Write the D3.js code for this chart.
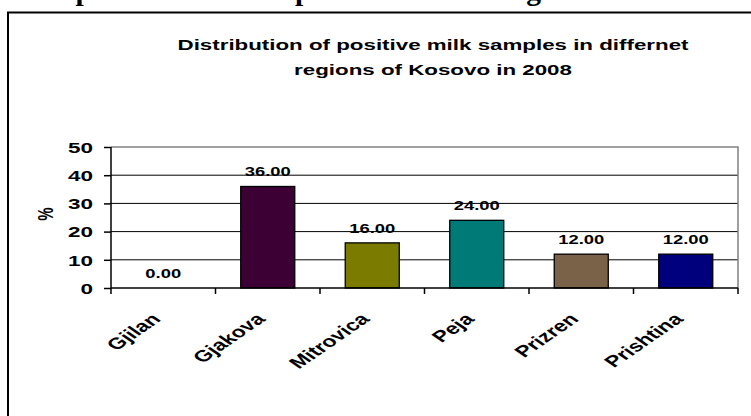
<!DOCTYPE html>
<html>
<head>
<meta charset="utf-8">
<script src="https://cdn.jsdelivr.net/npm/d3@7/dist/d3.min.js"></script>
<style>
  html, body { margin: 0; padding: 0; background: #fff; }
  svg { display: block; }
</style>
</head>
<body>
<div id="chart"></div>
<script>
// Positive milk samples by region, Kosovo 2008 (%)
const regions = ["Gjilan", "Gjakova", "Mitrovica", "Peja", "Prizren", "Prishtina"];
const positivePct = [0, 36, 16, 24, 12, 12];
const barColors = ["#ffffff", "#3d0035", "#7b7b00", "#007a76", "#7a6249", "#00007c"];
const yTicks = [0, 10, 20, 30, 40, 50];
const titleLines = ["Distribution of positive milk samples in differnet", "regions of Kosovo in 2008"];
const headingText = "Distribution of positive milk samples in differnet regions of Kosovo";
const yAxisLabel = "%";

const W = 751, H = 416;
const SX = 1.45; // horizontal text stretch
const sans = "'Liberation Sans', Arial, sans-serif";

const svg = d3.select("#chart").append("svg")
  .attr("width", W).attr("height", H);

// heading line from the surrounding page, mostly cut off at the top edge
svg.append("text")
  .attr("transform", `translate(-118,-0.5)`)
  .attr("font-family", "'Liberation Serif', 'Times New Roman', serif")
  .attr("font-weight", "bold")
  .attr("font-size", 29.5)
  .attr("fill", "#000")
  .text(headingText);

// outer chart frame
svg.append("rect")
  .attr("x", 8).attr("y", 12.5)
  .attr("width", 800).attr("height", 500)
  .attr("fill", "none").attr("stroke", "#000").attr("stroke-width", 2);

const plot = { left: 111, right: 738, top: 147, bottom: 288 };

const x = d3.scaleBand()
  .domain(regions)
  .range([plot.left, plot.right])
  .paddingInner(0.483)
  .paddingOuter(0.2415);

const y = d3.scaleLinear()
  .domain([0, 50])
  .range([plot.bottom, plot.top]);

// gridlines
svg.append("g")
  .selectAll("line")
  .data(yTicks.filter(t => t > 0 && t < 50))
  .join("line")
  .attr("x1", plot.left).attr("x2", plot.right)
  .attr("y1", d => y(d)).attr("y2", d => y(d))
  .attr("stroke", "#000").attr("stroke-width", 1);

// plot area top and right border
svg.append("path")
  .attr("d", `M${plot.left},${y(50)}H${plot.right}V${y(0)}`)
  .attr("fill", "none").attr("stroke", "#808080").attr("stroke-width", 1.5);

// bars
const data = regions.map((r, i) => ({ region: r, value: positivePct[i], color: barColors[i] }));
svg.append("g")
  .selectAll("rect")
  .data(data.filter(d => d.value > 0))
  .join("rect")
  .attr("x", d => x(d.region))
  .attr("y", d => y(d.value))
  .attr("width", x.bandwidth())
  .attr("height", d => y(0) - y(d.value))
  .attr("fill", d => d.color)
  .attr("stroke", "#000").attr("stroke-width", 1.3);

// value labels
svg.append("g")
  .selectAll("text")
  .data(data)
  .join("text")
  .attr("transform", d => `translate(${x(d.region) + x.bandwidth() / 2},${y(d.value) - 10}) scale(${SX},1)`)
  .attr("text-anchor", "middle")
  .attr("font-family", sans).attr("font-weight", "bold").attr("font-size", 12.7)
  .text(d => d3.format(".2f")(d.value));

// y axis
const yAxis = svg.append("g")
  .attr("transform", `translate(${plot.left},0)`)
  .call(d3.axisLeft(y).tickValues(yTicks).tickSize(7).tickPadding(0).tickFormat(d3.format("d")));
yAxis.select(".domain").attr("stroke", "#000").attr("stroke-width", 1.5).attr("d", `M0,${y(50)}V${y(0)}`);
yAxis.selectAll(".tick line").attr("stroke", "#000").attr("stroke-width", 1.5);
yAxis.selectAll(".tick text")
  .attr("x", null).attr("dy", null)
  .attr("transform", `translate(-18,0) scale(${SX},1)`)
  .attr("dominant-baseline", "central")
  .attr("fill", "#000")
  .attr("font-family", sans).attr("font-weight", "bold").attr("font-size", 15.5);

// x axis line with ticks at category boundaries
const gap = x.step() - x.bandwidth();
const bounds = regions.map(r => x(r) - gap / 2).concat([x(regions[regions.length - 1]) + x.bandwidth() + gap / 2]);
svg.append("line")
  .attr("x1", plot.left).attr("x2", plot.right)
  .attr("y1", y(0)).attr("y2", y(0))
  .attr("stroke", "#000").attr("stroke-width", 1.5);
svg.append("g")
  .selectAll("line")
  .data(bounds)
  .join("line")
  .attr("x1", d => d).attr("x2", d => d)
  .attr("y1", y(0)).attr("y2", y(0) + 6)
  .attr("stroke", "#000").attr("stroke-width", 1.5);

// rotated category labels
svg.append("g")
  .selectAll("text")
  .data(regions)
  .join("text")
  .attr("transform", d => `translate(${x(d) + x.bandwidth() / 2 - 1.5},${y(0) + 32}) scale(${SX},1) rotate(-45)`)
  .attr("text-anchor", "end")
  .attr("font-family", sans).attr("font-weight", "bold").attr("font-size", 16)
  .text(d => d);

// y axis title
svg.append("text")
  .attr("transform", `translate(45,214) scale(${SX},1) rotate(-90)`)
  .attr("text-anchor", "middle")
  .attr("dominant-baseline", "central")
  .attr("font-family", sans).attr("font-weight", "bold").attr("font-size", 15)
  .text(yAxisLabel);

// chart title
svg.append("g")
  .selectAll("text")
  .data(titleLines)
  .join("text")
  .attr("transform", (d, i) => `translate(433,${50 + i * 25}) scale(${SX},1)`)
  .attr("text-anchor", "middle")
  .attr("font-family", sans).attr("font-weight", "bold").attr("font-size", 15.4)
  .text(d => d);
</script>
</body>
</html>
